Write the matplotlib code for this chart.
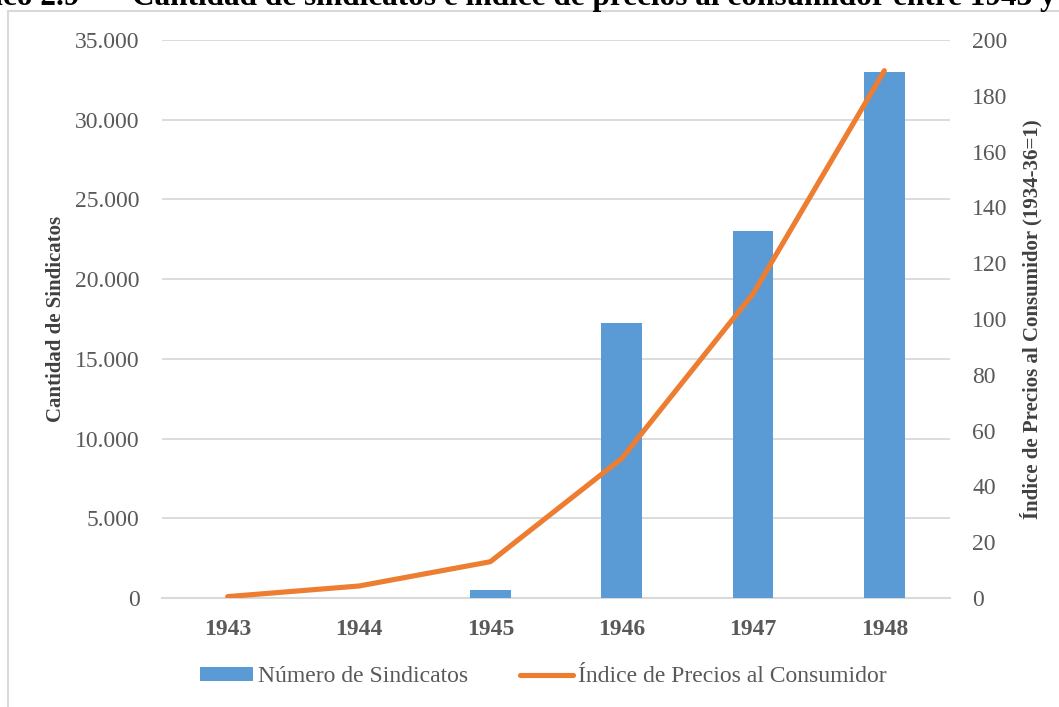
import matplotlib
matplotlib.use("Agg")
import matplotlib.pyplot as plt
from matplotlib.patches import Patch, Rectangle
from matplotlib.lines import Line2D
from matplotlib.ticker import FuncFormatter, MultipleLocator

plt.rcParams["font.family"] = ["Liberation Serif", "DejaVu Serif"]

years = ["1943", "1944", "1945", "1946", "1947", "1948"]
sindicatos = [0, 0, 500, 17250, 23000, 33000]
ipc = [0.5, 4.3, 13, 50, 109, 189]

bar_label = "Número de Sindicatos"
line_label = "Índice de Precios al Consumidor"
left_title = "Cantidad de Sindicatos"
right_title = "Índice de Precios al Consumidor (1934-36=1)"

W, H = 1059, 707
fig = plt.figure(figsize=(W / 100, H / 100), dpi=100)

# outer chart frame
fig.patches.append(Rectangle((8 / W, -0.1), 1.2, 1 - 11 / H + 0.1,
                             transform=fig.transFigure, fill=False,
                             edgecolor="#d9d9d9", linewidth=1.5))

# title running off the top edge
fig.text(80 / W, 1 - 5 / H, "Gráfico 2.9", ha="right", va="baseline",
         fontsize=22.5, fontweight="bold", color="black")
fig.text(132 / W, 1 - 5 / H,
         "Cantidad de sindicatos e índice de precios al consumidor entre 1943 y 1948",
         ha="left", va="baseline", fontsize=22.5, fontweight="bold", color="black")

ax = fig.add_axes([162 / W, 1 - 598 / H, (950 - 162) / W, (598 - 40) / H])
ax2 = ax.twinx()

x = list(range(len(years)))
ax.bar(x, sindicatos, width=0.31, color="#5b9bd5", zorder=3)
ax2.plot(x, ipc, color="#ed7d31", linewidth=3.7, solid_capstyle="round", zorder=4)

ax.set_xlim(-0.5, len(years) - 0.5)
ax.set_ylim(0, 35000)
ax2.set_ylim(0, 200)
ax.yaxis.set_major_locator(MultipleLocator(5000))
ax2.yaxis.set_major_locator(MultipleLocator(20))
ax.yaxis.set_major_formatter(FuncFormatter(lambda v, p: f"{int(v):,}".replace(",", ".")))

ax.set_xticks(x)
ax.set_xticklabels(years, fontsize=17, fontweight="bold", color="#595959")
ax.grid(axis="y", color="#d9d9d9", linewidth=1.3, zorder=0)
ax.set_axisbelow(True)

for a in (ax, ax2):
    for s in a.spines.values():
        s.set_visible(False)
    a.tick_params(length=0)
ax.spines["bottom"].set_visible(True)
ax.spines["bottom"].set_color("#d9d9d9")
ax.spines["bottom"].set_linewidth(1.5)

ax.tick_params(axis="y", labelsize=17, labelcolor="#595959", pad=16)
ax.tick_params(axis="x", pad=15)
ax2.tick_params(axis="y", labelsize=17, labelcolor="#595959", pad=16)

ax.set_ylabel(left_title, fontsize=15, fontweight="bold", color="#404040")
ax2.set_ylabel(right_title, fontsize=15, fontweight="bold", color="#404040")
ax.yaxis.set_label_coords((66 - 162) / 788, 0.5)
ax2.yaxis.set_label_coords((1020 - 162) / 788, 0.5)

handles = [Patch(facecolor="#5b9bd5", edgecolor="none"),
           Line2D([0], [0], color="#ed7d31", linewidth=3.7, solid_capstyle="round")]
fig.legend(handles, [bar_label, line_label], loc="center",
           bbox_to_anchor=(543 / W, 1 - 677 / H), ncol=2, frameon=False,
           fontsize=17, labelcolor="#595959", handlelength=2.25, handleheight=0.5,
           handletextpad=0.2, columnspacing=2.2)

fig.savefig("out.png", dpi=100, facecolor="white")
